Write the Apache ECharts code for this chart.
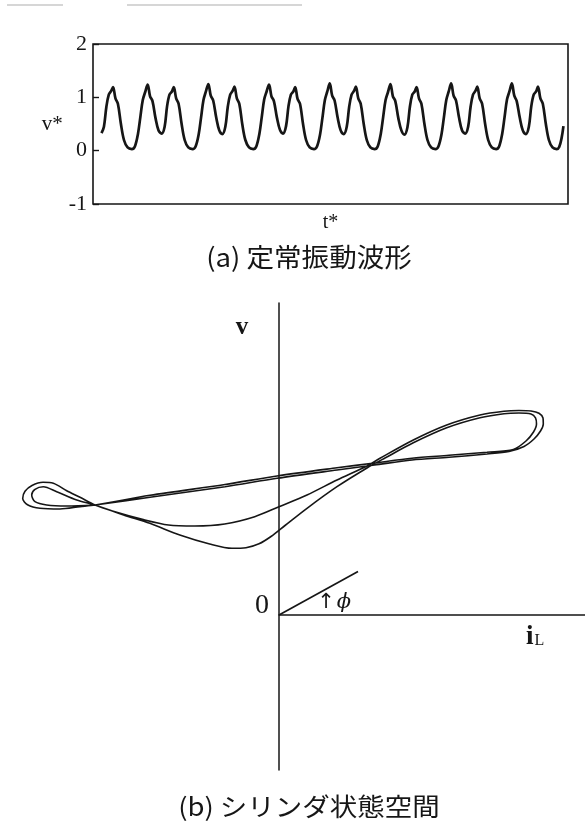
<!DOCTYPE html>
<html>
<head>
<meta charset="utf-8">
<script src="https://cdn.jsdelivr.net/npm/echarts@6/dist/echarts.min.js"></script>
<style>
  html, body { margin: 0; padding: 0; background: #fff; }
  #chart { width: 585px; height: 822px; }
</style>
</head>
<body>
<div id="chart"></div>
<script>
// ---- (a) steady oscillation waveform: [t*, v*] ----
const vTicks = [-1, 0, 1, 2];
const waveform = [
  [-0.50,0.33],[-0.46,0.45],[-0.42,0.82],[-0.38,1.05],[-0.34,1.12],[-0.31,1.19],[-0.27,0.98],[-0.23,0.88],[-0.18,0.50],[-0.13,0.20],[-0.07,0.06],
  [0.00,0.03],[0.05,0.08],[0.10,0.31],[0.14,0.63],[0.18,0.95],[0.22,1.10],[0.26,1.24],[0.30,1.02],[0.34,0.93],[0.39,0.61],[0.44,0.38],[0.49,0.32],[0.54,0.45],[0.58,0.83],[0.62,1.05],[0.66,1.11],[0.69,1.19],[0.73,0.98],[0.77,0.88],[0.82,0.50],[0.87,0.20],[0.93,0.06],
  [1.00,0.03],[1.05,0.08],[1.10,0.30],[1.14,0.62],[1.18,0.95],[1.22,1.11],[1.26,1.25],[1.30,1.03],[1.34,0.94],[1.39,0.62],[1.44,0.38],[1.49,0.31],[1.54,0.45],[1.58,0.82],[1.62,1.05],[1.66,1.12],[1.69,1.20],[1.73,0.98],[1.77,0.88],[1.82,0.49],[1.87,0.20],[1.93,0.06],
  [2.00,0.03],[2.05,0.08],[2.10,0.31],[2.14,0.63],[2.18,0.96],[2.22,1.11],[2.26,1.24],[2.30,1.02],[2.34,0.93],[2.39,0.62],[2.44,0.39],[2.49,0.32],[2.54,0.46],[2.58,0.83],[2.62,1.05],[2.66,1.11],[2.69,1.19],[2.73,0.97],[2.77,0.88],[2.82,0.50],[2.87,0.20],[2.93,0.06],
  [3.00,0.03],[3.05,0.08],[3.10,0.30],[3.14,0.62],[3.18,0.95],[3.22,1.11],[3.26,1.26],[3.30,1.03],[3.34,0.94],[3.39,0.62],[3.44,0.38],[3.49,0.31],[3.54,0.45],[3.58,0.82],[3.62,1.05],[3.66,1.12],[3.69,1.20],[3.73,0.98],[3.77,0.88],[3.82,0.50],[3.87,0.20],[3.93,0.06],
  [4.00,0.03],[4.05,0.08],[4.10,0.31],[4.14,0.63],[4.18,0.95],[4.22,1.10],[4.26,1.25],[4.30,1.02],[4.34,0.93],[4.39,0.61],[4.44,0.38],[4.49,0.30],[4.54,0.44],[4.58,0.82],[4.62,1.05],[4.66,1.11],[4.69,1.19],[4.73,0.98],[4.77,0.88],[4.82,0.50],[4.87,0.20],[4.93,0.06],
  [5.00,0.03],[5.05,0.08],[5.10,0.30],[5.14,0.62],[5.18,0.95],[5.22,1.11],[5.26,1.26],[5.30,1.03],[5.34,0.94],[5.39,0.62],[5.44,0.38],[5.49,0.32],[5.54,0.45],[5.58,0.82],[5.62,1.05],[5.66,1.12],[5.69,1.20],[5.73,0.98],[5.77,0.88],[5.82,0.50],[5.87,0.20],[5.93,0.06],
  [6.00,0.03],[6.05,0.08],[6.10,0.31],[6.14,0.63],[6.18,0.96],[6.22,1.11],[6.26,1.26],[6.30,1.03],[6.34,0.93],[6.39,0.62],[6.44,0.38],[6.49,0.31],[6.54,0.45],[6.58,0.83],[6.62,1.05],[6.66,1.11],[6.69,1.20],[6.73,0.98],[6.77,0.88],[6.82,0.50],[6.87,0.20],[6.93,0.06],
  [7.00,0.03],[7.04,0.07],[7.08,0.24],[7.11,0.46]
];

// ---- (b) cylinder state space: [iL, v] segments of the period-2 orbit ----
const longStrandA = [[-1.84,1.10],[-1.29,1.177],[-0.54,1.283],[-0.02,1.367],[0.58,1.45],[0.955,1.50],[1.33,1.55],[1.70,1.577],[2.08,1.61]];
const rightLoopOuter = [[2.30,1.635],[2.45,1.685],[2.55,1.76],[2.615,1.84],[2.643,1.91],[2.64,1.97],[2.60,2.018],[2.52,2.04],[2.40,2.045],[2.25,2.038],[2.01,2.00],[1.677,1.90],[1.343,1.75],[1.01,1.567]];
const shallowDip = [[0.88,1.49],[0.58,1.35],[0.28,1.20],[0.0,1.083],[-0.243,0.983],[-0.543,0.91],[-0.842,0.89],[-1.105,0.90],[-1.367,0.957],[-1.666,1.04],[-1.84,1.10]];
const leftLoopOuter = [[-1.99,1.177],[-2.123,1.243],[-2.257,1.318],[-2.36,1.327],[-2.47,1.295],[-2.54,1.237],[-2.563,1.165],[-2.515,1.103],[-2.39,1.067],[-2.19,1.06],[-1.99,1.083],[-1.84,1.10]];
const longStrandB = [[-1.29,1.197],[-0.54,1.305],[-0.02,1.39],[0.58,1.472],[0.955,1.52],[1.33,1.568],[1.70,1.597],[2.08,1.628]];
const rightLoopInner = [[2.343,1.655],[2.47,1.74],[2.545,1.83],[2.575,1.91],[2.565,1.972],[2.52,2.01],[2.40,2.02],[2.25,2.013],[2.01,1.972],[1.677,1.872],[1.343,1.722],[1.06,1.57]];
const deepDip = [[0.88,1.47],[0.58,1.283],[0.28,1.067],[0.06,0.895],[-0.08,0.785],[-0.20,0.712],[-0.33,0.673],[-0.47,0.667],[-0.693,0.71],[-0.992,0.80],[-1.292,0.917],[-1.554,1.00],[-1.84,1.10]];
const leftLoopInner = [[-2.023,1.15],[-2.223,1.233],[-2.357,1.283],[-2.44,1.257],[-2.473,1.20],[-2.44,1.133],[-2.323,1.10],[-2.123,1.09],[-1.84,1.10]];
const phiRay = [[0,0],[0.79,0.435]];

const orbit = [].concat(
  longStrandA, rightLoopOuter, shallowDip, leftLoopOuter,
  longStrandB, rightLoopInner, deepDip, leftLoopInner
);

// state-space extents (iL and v share one scale)
const iLRange = [-2.79, 3.06];
const vRange = [-1.55, 3.12];

const INK = '#161616';
const SERIF = '"Liberation Serif", "Times New Roman", serif';
const CJK = '"Noto Sans CJK JP", "Noto Sans", sans-serif';

const chart = echarts.init(document.getElementById('chart'), null, { renderer: 'canvas' });

const hidden = { axisLine: { show: false }, axisTick: { show: false }, axisLabel: { show: false }, splitLine: { show: false } };

chart.setOption({
  animation: false,
  backgroundColor: '#ffffff',
  grid: [
    // (a) framed time plot
    { left: 93, top: 44, width: 475, height: 160, show: true, borderColor: INK, borderWidth: 1.6, backgroundColor: 'transparent' },
    // (b) full-width plane carrying the orbit
    { left: 0, top: 303, width: 585, height: 467, show: false },
    // (b) quadrant that carries the iL / v axis lines from the origin
    { left: 279, top: 303, width: 306, height: 467, show: false }
  ],
  xAxis: [
    {
      gridIndex: 0, type: 'value', min: -0.64, max: 7.185, ...hidden,
      name: 't*', nameLocation: 'middle', nameGap: 9,
      nameTextStyle: { fontFamily: SERIF, fontSize: 20, color: INK }
    },
    { gridIndex: 1, type: 'value', min: iLRange[0], max: iLRange[1], ...hidden },
    {
      gridIndex: 2, type: 'value', min: 0, max: iLRange[1],
      axisLine: { show: true, onZero: true, lineStyle: { color: INK, width: 1.5 } },
      axisTick: { show: false }, axisLabel: { show: false }, splitLine: { show: false }
    }
  ],
  yAxis: [
    {
      gridIndex: 0, type: 'value', min: vTicks[0], max: vTicks[vTicks.length - 1], interval: 1,
      axisLine: { show: false, onZero: false },
      axisTick: { show: true, inside: true, length: 6, lineStyle: { color: INK, width: 1.4 } },
      axisLabel: { margin: 6, fontFamily: SERIF, fontSize: 22, color: INK },
      splitLine: { show: false },
      name: 'v*', nameLocation: 'middle', nameRotate: 0, nameGap: 27,
      nameTextStyle: { fontFamily: SERIF, fontSize: 21, color: INK, padding: [6, 0, 0, 0] }
    },
    { gridIndex: 1, type: 'value', min: vRange[0], max: vRange[1], ...hidden },
    {
      gridIndex: 2, type: 'value', min: vRange[0], max: vRange[1],
      axisLine: { show: true, onZero: false, lineStyle: { color: INK, width: 1.5 } },
      axisTick: { show: false }, axisLabel: { show: false }, splitLine: { show: false }
    }
  ],
  series: [
    {
      type: 'line', xAxisIndex: 0, yAxisIndex: 0, data: waveform,
      showSymbol: false, smooth: 0.35, lineStyle: { color: INK, width: 2.7 }
    },
    {
      type: 'line', xAxisIndex: 1, yAxisIndex: 1, data: orbit, clip: false,
      showSymbol: false, smooth: 0.3, lineStyle: { color: INK, width: 1.6 }
    },
    {
      type: 'line', xAxisIndex: 1, yAxisIndex: 1, data: phiRay, clip: false,
      showSymbol: false, lineStyle: { color: INK, width: 1.7 }
    }
  ],
  graphic: [
    { type: 'line', shape: { x1: 7, y1: 5, x2: 63, y2: 5 }, style: { stroke: '#c8c8c8', lineWidth: 1.4 } },
    { type: 'line', shape: { x1: 127, y1: 5, x2: 302, y2: 5 }, style: { stroke: '#c8c8c8', lineWidth: 1.4 } },
    { type: 'text', x: 309, y: 257, scaleX: 1.06,
      style: { text: '(a) 定常振動波形', align: 'center', verticalAlign: 'middle', fontFamily: CJK, fontSize: 26, fill: INK } },
    { type: 'text', x: 309, y: 806, scaleX: 1.1,
      style: { text: '(b) シリンダ状態空間', align: 'center', verticalAlign: 'middle', fontFamily: CJK, fontSize: 25, fill: INK } },
    { type: 'text', x: 242, y: 328,
      style: { text: 'v', align: 'center', verticalAlign: 'middle', fontFamily: SERIF, fontSize: 25, fontWeight: 'bold', fill: INK } },
    { type: 'text', x: 262, y: 606,
      style: { text: '0', align: 'center', verticalAlign: 'middle', fontFamily: SERIF, fontSize: 28, fill: INK } },
    { type: 'text', x: 526, y: 651,
      style: {
        text: '{i|i}{s|L}', align: 'left', verticalAlign: 'bottom', fill: INK,
        rich: {
          i: { fontFamily: SERIF, fontSize: 27, fontWeight: 'bold', fill: INK, verticalAlign: 'bottom' },
          s: { fontFamily: SERIF, fontSize: 16, fill: INK, verticalAlign: 'bottom', padding: [0, 0, 2, 1] }
        }
      } },
    { type: 'text', x: 326, y: 603,
      style: { text: '↑', align: 'center', verticalAlign: 'middle', fontFamily: '"DejaVu Sans", sans-serif', fontSize: 21, fill: INK } },
    { type: 'text', x: 344, y: 603,
      style: { text: 'ϕ', align: 'center', verticalAlign: 'middle', fontFamily: '"DejaVu Serif", serif', fontStyle: 'italic', fontSize: 21, fill: INK } }
  ]
});
</script>
</body>
</html>
